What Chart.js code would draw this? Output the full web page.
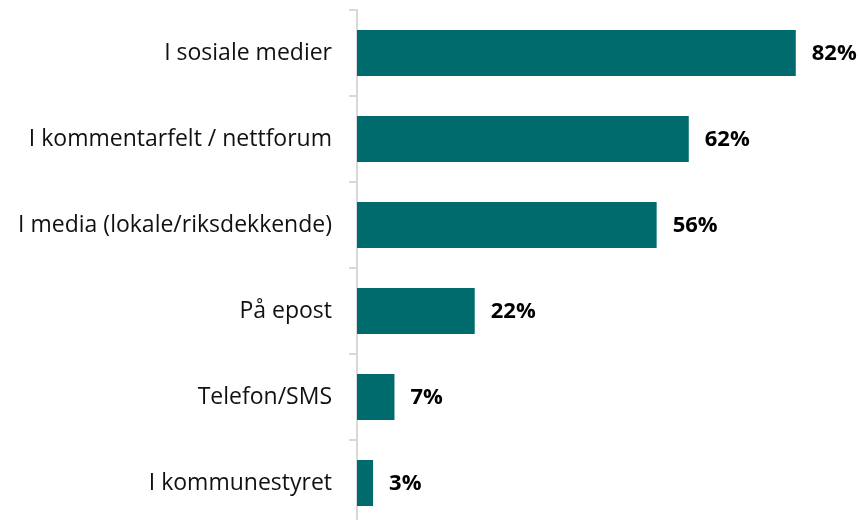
<!DOCTYPE html>
<html>
<head>
<meta charset="utf-8">
<script src="https://cdn.jsdelivr.net/npm/chart.js@4"></script>
<style>
  html, body { margin: 0; padding: 0; background: #fff; overflow: hidden; }
  #wrap { width: 860px; height: 526px; position: relative; }
</style>
</head>
<body>
<div id="wrap"><canvas id="chart"></canvas></div>
<script>
const categories = [
  'I sosiale medier',
  'I kommentarfelt / nettforum',
  'I media (lokale/riksdekkende)',
  'På epost',
  'Telefon/SMS',
  'I kommunestyret'
];
const values = [82, 62, 56, 22, 7, 3];

// draws the bold "82%" labels after each bar
const valueLabels = {
  id: 'valueLabels',
  afterDatasetsDraw(chart) {
    const ctx = chart.ctx;
    const meta = chart.getDatasetMeta(0);
    ctx.save();
    ctx.font = 'bold 22px "Open Sans"';
    ctx.fillStyle = '#000';
    ctx.textAlign = 'left';
    ctx.textBaseline = 'middle';
    meta.data.forEach((bar, i) => {
      ctx.fillText(values[i] + '%', bar.x + 16, bar.y + 1);
    });
    ctx.restore();
  }
};

new Chart(document.getElementById('chart'), {
  type: 'bar',
  data: {
    labels: categories,
    datasets: [{
      data: values,
      backgroundColor: '#006b6d',
      categoryPercentage: 1,
      barPercentage: 0.535,
      borderWidth: 0
    }]
  },
  options: {
    indexAxis: 'y',
    responsive: true,
    maintainAspectRatio: false,
    animation: false,
    layout: { padding: { top: 10, right: 0, bottom: 0, left: 0 } },
    plugins: {
      legend: { display: false },
      tooltip: { enabled: false }
    },
    scales: {
      x: {
        display: false,
        min: 0,
        max: 94
      },
      y: {
        afterFit(scale) {
          scale.width = 357;
          scale.paddingTop = 0;
          scale.paddingBottom = 0;
        },
        border: { display: true, color: '#d9d9d9', width: 2 },
        grid: {
          drawOnChartArea: false,
          drawTicks: true,
          tickLength: 8,
          color: '#d9d9d9',
          lineWidth: 2
        },
        ticks: {
          color: '#111',
          padding: 17,
          font: { family: '"Open Sans"', size: 23 }
        }
      }
    }
  },
  plugins: [valueLabels]
});
</script>
</body>
</html>
